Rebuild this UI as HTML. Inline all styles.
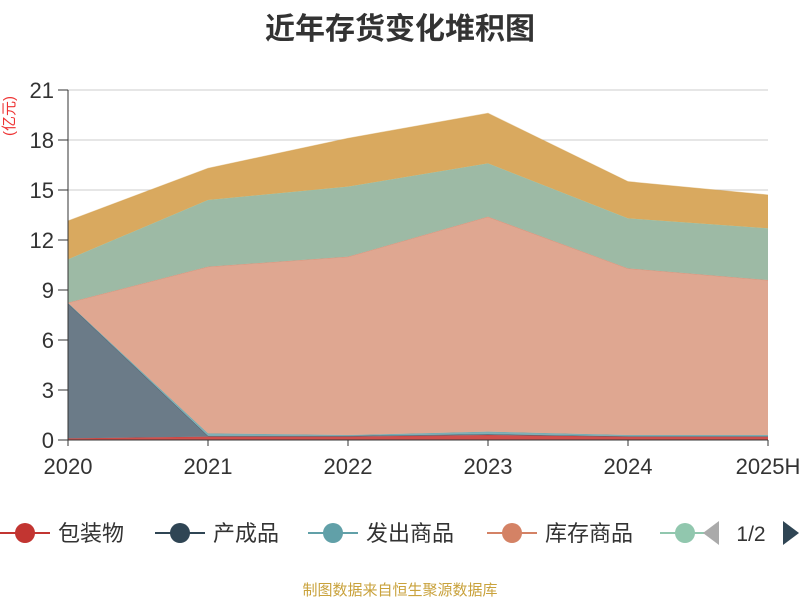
<!DOCTYPE html>
<html><head><meta charset="utf-8"><style>
body{margin:0;background:#fff;}
svg text{font-family:"Liberation Sans","Noto Sans CJK SC",sans-serif;}
</style></head><body>
<svg width="800" height="600" id="c">
<text x="400" y="39" text-anchor="middle" font-size="30" font-weight="bold" fill="#333">近年存货变化堆积图</text>
<text transform="translate(14,116) rotate(-90)" text-anchor="middle" font-size="15" fill="#e33">(亿元)</text>
<g id="grid"></g><g id="areas"></g><g id="axes"></g><g id="legend"></g>
<text x="400" y="595" text-anchor="middle" font-size="15" fill="#c9a23c">制图数据来自恒生聚源数据库</text>
</svg>
<script>
const categories=["2020","2021","2022","2023","2024","2025H"];
const yTicks=[0,3,6,9,12,15,18,21];
const baozhuang=[0.1,0.2,0.2,0.3,0.2,0.2];
const chengpin=[8.1,0.05,0.05,0.05,0.02,0.02];
const fachu=[0.02,0.15,0.05,0.15,0.08,0.08];
const kucun=[0.02,10.0,10.7,12.9,10.0,9.3];
const yuancailiao=[2.6,4.0,4.2,3.2,3.0,3.1];
const zhouzhuan=[2.3,1.9,2.9,3.0,2.2,2.0];
const seriesNames=["包装物","产成品","发出商品","库存商品","原材料","周转材料"];
const seriesColors=["#c23531","#2f4554","#61a0a8","#d48265","#91c7ae","#d4a04c"];
const fillColors=["#d0504c","#6b7b88","#7fb0b6","#dfa791","#9dbaa5","#d9a95f"];
const seriesData=[baozhuang,chengpin,fachu,kucun,yuancailiao,zhouzhuan];
const NS="http://www.w3.org/2000/svg";
const X0=68,X1=768,Y0=440,Y1=90,YMAX=21;
const xs=i=>X0+i*(X1-X0)/(categories.length-1);
const ys=v=>Y0-v/YMAX*(Y0-Y1);
function mk(t,a,p){const e=document.createElementNS(NS,t);for(const k in a)e.setAttribute(k,a[k]);p.appendChild(e);return e;}
const grid=document.getElementById('grid'),axes=document.getElementById('axes'),areas=document.getElementById('areas'),legend=document.getElementById('legend');
yTicks.forEach(t=>{
 if(t>0){const l=mk('line',{x1:X0,x2:X1,y1:ys(t),y2:ys(t),stroke:'#ccc'},grid);
 
 }
 const tk=mk('line',{x1:X0-10,x2:X0,y1:ys(t),y2:ys(t),stroke:'#333'},axes);
 
 
 const tx=mk('text',{x:X0-14,y:ys(t)+8,'text-anchor':'end','font-size':22,fill:'#333'},axes);
 tx.textContent=t;
 
 
});
let base=categories.map(()=>0);
seriesData.forEach((d,si)=>{
 const top=base.map((b,i)=>b+d[i]);
 let p='';
 top.forEach((v,i)=>p+=(i?'L':'M')+xs(i)+','+ys(v));
 for(let i=base.length-1;i>=0;i--)p+='L'+xs(i)+','+ys(base[i]);
 p+='Z';
 const a=mk('path',{d:p,fill:fillColors[si]},areas);
 
 
 let lp='';top.forEach((v,i)=>lp+=(i?'L':'M')+xs(i)+','+ys(v));
 const ln=mk('path',{d:lp,fill:'none',stroke:seriesColors[si],'stroke-width':1,'stroke-opacity':0.5},areas);
 
 
 base=top;
});
const ya=mk('line',{x1:X0,x2:X0,y1:Y1,y2:Y0,stroke:'#333'},axes);


const xa=mk('line',{x1:X0,x2:X1,y1:Y0,y2:Y0,stroke:'#333'},axes);


categories.forEach((c,i)=>{
 const tk=mk('line',{x1:xs(i),x2:xs(i),y1:Y0,y2:Y0+6,stroke:'#333'},axes);
 
 
 const tx=mk('text',{x:xs(i),y:Y0+34,'text-anchor':'middle','font-size':22,fill:'#333'},axes);
 tx.textContent=c;
 
 
});
const lx=[0,155,308,487,660];
for(let i=0;i<5;i++){
 const g=mk('g',{},legend);
 
 
 mk('line',{x1:lx[i],x2:lx[i]+50,y1:533,y2:533,stroke:seriesColors[i],'stroke-width':2},g);
 mk('circle',{cx:lx[i]+25,cy:533,r:10,fill:seriesColors[i]},g);
 if(i<4){const t=mk('text',{x:lx[i]+58,y:541,'font-size':22,fill:'#333'},g);t.textContent=seriesNames[i];}
}
const pl=mk('path',{d:'M719,521L703,533L719,545Z',fill:'#aaa'},legend);


const pg=mk('text',{x:751,y:541,'text-anchor':'middle','font-size':21,fill:'#333'},legend);
pg.textContent='1/2';


const pr=mk('path',{d:'M783,521L799,533L783,545Z',fill:'#2f4554'},legend);


</script>
</body></html>
